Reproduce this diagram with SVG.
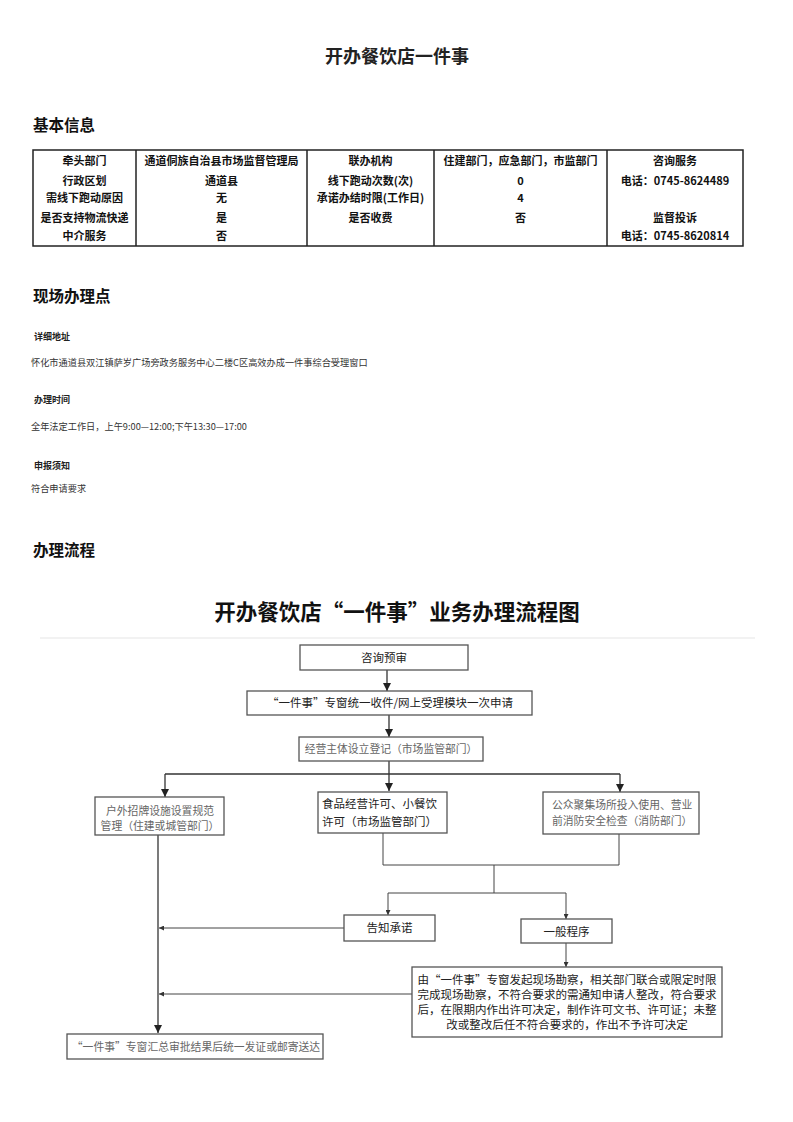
<svg xmlns="http://www.w3.org/2000/svg" width="793" height="1122" viewBox="0 0 793 1122">
<style>
text{font-family:"Noto Sans CJK SC","Liberation Sans",sans-serif;}
.h1{font-size:18px;font-weight:bold;fill:#222;text-anchor:middle}
.h2{font-size:15.5px;font-weight:bold;fill:#111}
.td{font-size:11px;font-weight:bold;fill:#111;text-anchor:middle}
.lab{font-size:9px;font-weight:bold;fill:#222}
.txt{font-size:9.2px;fill:#333}
.ft{font-size:21.5px;font-weight:bold;fill:#111;text-anchor:middle}
.box{fill:#fff;stroke:#555;stroke-width:1.3}
.bt{font-size:11.5px;fill:#222;text-anchor:middle}
.gt{font-size:10.8px;fill:#666;text-anchor:middle}
.st{text-anchor:start}
.ln{fill:none;stroke:#333;stroke-width:1.3}
.lnt{fill:none;stroke:#444;stroke-width:1}
</style>
<defs>
<marker id="ah" markerUnits="userSpaceOnUse" markerWidth="8" markerHeight="8" refX="8" refY="4" orient="auto"><path d="M0,0 L8,4 L0,8 z" fill="#222"/></marker>
<marker id="as" markerUnits="userSpaceOnUse" markerWidth="5" markerHeight="5" refX="5" refY="2.5" orient="auto"><path d="M0,0 L5,2.5 L0,5 z" fill="#333"/></marker>
</defs>
<rect width="793" height="1122" fill="#fff"/>

<text class="h1" x="397" y="63">开办餐饮店一件事</text>
<text class="h2" x="33" y="131">基本信息</text>

<g id="table">
<rect x="33" y="150" width="710" height="96" fill="none" stroke="#222" stroke-width="1.5"/>
<line x1="136" y1="150" x2="136" y2="246" stroke="#222" stroke-width="1.5"/>
<line x1="307" y1="150" x2="307" y2="246" stroke="#222" stroke-width="1.5"/>
<line x1="434" y1="150" x2="434" y2="246" stroke="#222" stroke-width="1.5"/>
<line x1="607" y1="150" x2="607" y2="246" stroke="#222" stroke-width="1.5"/>
<text class="td" x="84.5" y="165">牵头部门</text>
<text class="td" x="84.5" y="185">行政区划</text>
<text class="td" x="84.5" y="202">需线下跑动原因</text>
<text class="td" x="84.5" y="222">是否支持物流快递</text>
<text class="td" x="84.5" y="240">中介服务</text>
<text class="td" x="221.5" y="165">通道侗族自治县市场监督管理局</text>
<text class="td" x="221.5" y="185">通道县</text>
<text class="td" x="221.5" y="202">无</text>
<text class="td" x="221.5" y="222">是</text>
<text class="td" x="221.5" y="240">否</text>
<text class="td" x="370.5" y="165">联办机构</text>
<text class="td" x="370.5" y="185">线下跑动次数(次)</text>
<text class="td" x="370.5" y="202">承诺办结时限(工作日)</text>
<text class="td" x="370.5" y="222">是否收费</text>
<text class="td" x="520.5" y="165">住建部门，应急部门，市监部门</text>
<text class="td" x="520.5" y="185">0</text>
<text class="td" x="520.5" y="202">4</text>
<text class="td" x="520.5" y="222">否</text>
<text class="td" x="675" y="165">咨询服务</text>
<text class="td" x="675" y="185">电话：0745-8624489</text>
<text class="td" x="675" y="222">监督投诉</text>
<text class="td" x="675" y="240">电话：0745-8620814</text>
</g>

<text class="h2" x="33" y="302">现场办理点</text>
<text class="lab" x="34" y="340">详细地址</text>
<text class="txt" x="31" y="366">怀化市通道县双江镇萨岁广场旁政务服务中心二楼C区高效办成一件事综合受理窗口</text>
<text class="lab" x="34" y="403">办理时间</text>
<text class="txt" x="31" y="430">全年法定工作日，上午9:00—12:00;下午13:30—17:00</text>
<text class="lab" x="34" y="469">申报须知</text>
<text class="txt" x="31" y="492">符合申请要求</text>

<text class="h2" x="33" y="556">办理流程</text>

<text class="ft" x="397" y="620">开办餐饮店“一件事”业务办理流程图</text>
<line x1="40" y1="638" x2="755" y2="638" stroke="#eee" stroke-width="1.5"/>

<g id="connectors">
<line class="ln" x1="387" y1="670" x2="387" y2="691" marker-end="url(#ah)"/>
<line class="ln" x1="389" y1="715" x2="389" y2="737" marker-end="url(#ah)"/>
<line class="ln" x1="389" y1="761" x2="389" y2="791" marker-end="url(#ah)"/>
<line class="ln" x1="165" y1="774" x2="620" y2="774"/>
<line class="ln" x1="165" y1="774" x2="165" y2="797" marker-end="url(#ah)"/>
<line class="ln" x1="620" y1="774" x2="620" y2="792" marker-end="url(#ah)"/>
<line class="ln" x1="158" y1="835" x2="158" y2="1033" marker-end="url(#ah)"/>
<polyline class="lnt" points="383,833 383,865 619,865 619,834"/>
<line class="lnt" x1="494" y1="865" x2="494" y2="893"/>
<line class="lnt" x1="388" y1="893" x2="566" y2="893"/>
<line class="lnt" x1="388" y1="893" x2="388" y2="915" marker-end="url(#as)"/>
<line class="lnt" x1="566" y1="893" x2="566" y2="919" marker-end="url(#as)"/>
<line class="lnt" x1="344" y1="928" x2="159" y2="928" marker-end="url(#as)"/>
<line class="lnt" x1="566" y1="943" x2="566" y2="967" marker-end="url(#as)"/>
<line class="lnt" x1="412" y1="994" x2="159" y2="994" marker-end="url(#as)"/>
</g>

<g id="n1"><rect class="box" x="300" y="645" width="168" height="25"/><text class="bt" x="384" y="661.5">咨询预审</text></g>
<g id="n2"><rect class="box" x="247" y="691" width="285" height="24"/><text class="bt" x="390" y="707" font-size="11">“一件事”专窗统一收件/网上受理模块一次申请</text></g>
<g id="n3"><rect class="box" x="299" y="737" width="184" height="24"/><text class="gt" x="391" y="753" font-size="10.3">经营主体设立登记（市场监管部门）</text></g>
<g id="n4"><rect class="box" x="95" y="797" width="129" height="38"/><text class="gt" x="160" y="815">户外招牌设施设置规范</text><text class="gt" x="160" y="830">管理（住建或城管部门）</text></g>
<g id="n5"><rect class="box" x="318" y="792" width="129" height="41"/><text class="bt st" x="322" y="808" font-size="11.8">食品经营许可、小餐饮</text><text class="bt st" x="322" y="826" font-size="11.8">许可（市场监管部门）</text></g>
<g id="n6"><rect class="box" x="543" y="792" width="156" height="42"/><text class="gt st" x="552" y="809">公众聚集场所投入使用、营业</text><text class="gt st" x="552" y="825">前消防安全检查（消防部门）</text></g>
<g id="n7"><rect class="box" x="344" y="915" width="91" height="26"/><text class="bt" x="389.5" y="932" font-size="12">告知承诺</text></g>
<g id="n8"><rect class="box" x="521" y="919" width="91" height="24"/><text class="bt" x="566.5" y="935.5" font-size="12">一般程序</text></g>
<g id="n9"><rect class="box" x="412" y="967" width="310" height="70"/>
<text class="bt" x="567" y="984">由“一件事”专窗发起现场勘察，相关部门联合或限定时限</text>
<text class="bt" x="567" y="999">完成现场勘察，不符合要求的需通知申请人整改，符合要求</text>
<text class="bt" x="567" y="1014">后，在限期内作出许可决定，制作许可文书、许可证；未整</text>
<text class="bt" x="567" y="1029">改或整改后任不符合要求的，作出不予许可决定</text></g>
<g id="n10"><rect class="box" x="67" y="1034" width="256" height="25"/><text class="gt" x="196" y="1050.5" font-size="10.2">“一件事”专窗汇总审批结果后统一发证或邮寄送达</text></g>
</svg>
